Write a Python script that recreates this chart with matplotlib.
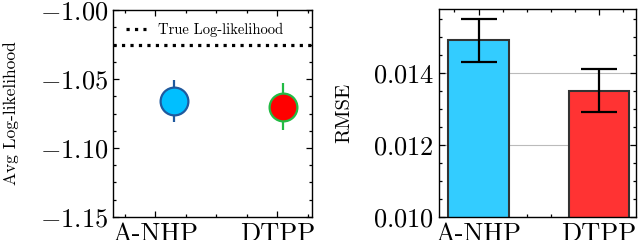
import numpy as np
import matplotlib
matplotlib.use('Agg')
import matplotlib.pyplot as plt
from matplotlib.ticker import AutoMinorLocator, MultipleLocator

#%% data
models = ['A-NHP', 'DTPP']

ll_mean = [-1.066, -1.070]
ll_err = [0.015, 0.017]
true_ll = -1.0255

rmse_mean = [0.0149, 0.0135]
rmse_err = [0.0006, 0.0006]

#%% style
plt.rcParams['font.family'] = 'serif'
plt.rcParams['font.serif'] = ['cmr10']
plt.rcParams['mathtext.fontset'] = 'cm'
plt.rcParams['axes.formatter.use_mathtext'] = True
plt.rcParams['axes.linewidth'] = 1.0

def style_ticks(ax, xminor, yminor):
    ax.xaxis.set_minor_locator(AutoMinorLocator(xminor))
    ax.yaxis.set_minor_locator(AutoMinorLocator(yminor))
    ax.tick_params(which='both', direction='in', top=True, right=True, width=0.9)
    ax.tick_params(which='major', length=4.5, labelsize=19)
    ax.tick_params(which='minor', length=2.5)

fig = plt.figure(figsize=(6.4, 2.4), dpi=100)

#%% left: log-likelihood
ax1 = fig.add_axes([0.177, 0.096, 0.311, 0.862])
xpos = np.arange(len(models))
shift = [0.15, 0.05]
face = ['#00bfff', '#ff0000']
edge = ['#1f5a9e', '#22bb44']
for i in range(len(models)):
    ax1.errorbar(xpos[i] + shift[i], ll_mean[i], yerr=ll_err[i], fmt='o',
                 ms=20, mfc=face[i], mec=edge[i], mew=1.6,
                 ecolor=edge[i], elinewidth=1.6, capsize=0)
ax1.axhline(true_ll, color='black', ls=':', lw=2.3, label='True Log-likelihood')
ax1.set_xlim(-0.344, 1.287)
ax1.set_ylim(-1.15, -1.00)
ax1.yaxis.set_major_locator(MultipleLocator(0.05))
ax1.set_xticks(xpos)
ax1.set_xticklabels(models)
ax1.set_ylabel('Avg Log-likelihood', fontsize=12.5, labelpad=15)
style_ticks(ax1, 4, 4)
ax1.legend(loc='upper left', frameon=False, fontsize=10.5,
           handlelength=1.35, borderaxespad=0.5)

#%% right: RMSE
ax2 = fig.add_axes([0.686, 0.096, 0.308, 0.865])
ax2.bar(xpos, rmse_mean, width=0.5, color=['#33ccff', '#ff3333'],
        edgecolor='#333333', linewidth=1.5, zorder=2)
ax2.errorbar(xpos, rmse_mean, yerr=rmse_err, fmt='none', ecolor='black',
             elinewidth=1.6, capsize=13, capthick=1.6, zorder=3)
ax2.set_xlim(-0.328, 1.307)
ax2.set_ylim(0.010, 0.01576)
ax2.yaxis.set_major_locator(MultipleLocator(0.002))
ax2.set_xticks(xpos)
ax2.set_xticklabels(models)
ax2.set_ylabel('RMSE', fontsize=15, labelpad=14)
ax2.grid(axis='y', which='major', color='#bbbbbb', lw=0.8)
ax2.set_axisbelow(True)
style_ticks(ax2, 5, 4)

fig.savefig('out.png', dpi=100)
